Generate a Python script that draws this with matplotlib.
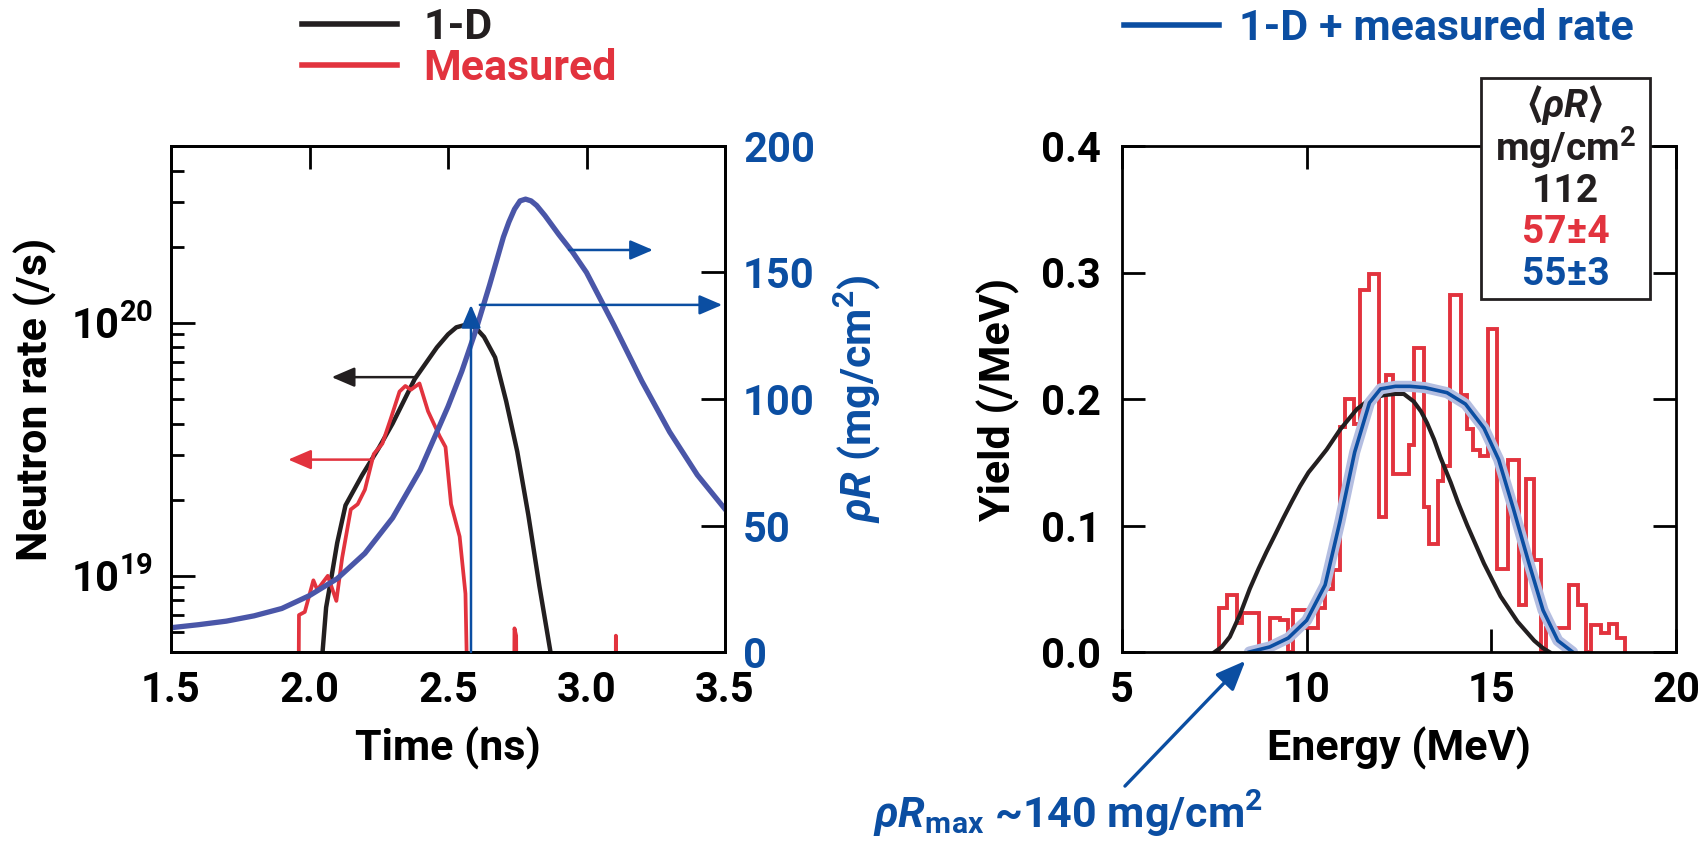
import numpy as np
import matplotlib
matplotlib.use("Agg")
from matplotlib import pyplot as plt
from matplotlib.patches import Rectangle
from matplotlib.ticker import FixedLocator, FuncFormatter, LogLocator, NullFormatter

# ---- left panel: neutron rate (log) and rhoR vs time ----
t_1d = [2.03, 2.04, 2.06, 2.08, 2.10, 2.13, 2.19, 2.25, 2.30, 2.38, 2.46, 2.50, 2.53,
        2.56, 2.59, 2.61, 2.63, 2.67, 2.71, 2.75, 2.79, 2.83, 2.87, 2.89]
rate_1d = [2e18, 4e18, 7.5e18, 1.0e19, 1.35e19, 1.9e19, 2.5e19, 3.2e19, 4.0e19, 6.0e19,
           8.0e19, 9.0e19, 9.6e19, 9.8e19, 9.7e19, 9.3e19, 8.8e19, 7.3e19, 4.9e19,
           3.1e19, 1.74e19, 9.1e18, 5.0e18, 3.0e18]

t_meas = [1.958, 1.962, 1.983, 2.014, 2.028, 2.066, 2.097, 2.118, 2.149, 2.174, 2.200,
          2.232, 2.263, 2.294, 2.325, 2.346, 2.366, 2.397, 2.428, 2.470, 2.491, 2.511,
          2.542, 2.563, 2.580]
rate_meas = [1e18, 7.0e18, 7.2e18, 9.6e18, 8.8e18, 1.0e19, 7.96e18, 1.18e19, 1.83e19,
             1.92e19, 2.19e19, 3.03e19, 3.33e19, 4.2e19, 5.35e19, 5.63e19, 5.44e19,
             5.76e19, 4.47e19, 3.56e19, 3.23e19, 1.92e19, 1.43e19, 8.5e18, 1e18]
spike1_t = [2.736, 2.740, 2.746, 2.750]
spike1_rate = [1e18, 6.2e18, 5.8e18, 1e18]
spike2_t = [3.104, 3.106, 3.108]
spike2_rate = [1e18, 5.8e18, 1e18]

t_rhoR = [1.5, 1.6, 1.7, 1.8, 1.9, 2.0, 2.1, 2.2, 2.3, 2.4, 2.5, 2.55, 2.6, 2.65, 2.7,
          2.72, 2.74, 2.76, 2.78, 2.80, 2.82, 2.85, 2.9, 2.95, 3.0, 3.1, 3.2, 3.3, 3.4, 3.5]
rhoR = [9.6, 10.8, 12.2, 14.3, 17.2, 22.3, 29, 39, 53, 72, 97, 111, 127, 145, 164,
        170, 175, 178.3, 179, 178.3, 176.5, 172.5, 165, 158, 150, 129, 107, 87, 70, 56.5]

# ---- right panel: yield spectra vs energy ----
e_edges = [7.62, 7.84, 8.12, 8.26, 8.71, 9.02, 9.27, 9.50, 9.64, 10.00, 10.32, 10.50,
           10.72, 10.89, 11.04, 11.27, 11.45, 11.68, 11.95, 12.16, 12.34, 12.76, 12.90,
           13.17, 13.31, 13.55, 13.70, 13.89, 14.17, 14.35, 14.51, 14.69, 14.91, 15.16,
           15.45, 15.75, 15.93, 16.16, 16.34, 16.48, 17.11, 17.34, 17.56, 17.70, 17.98,
           18.19, 18.40, 18.61]
yield_meas = [0.035, 0.045, 0.023, 0.031, 0.0, 0.027, 0.025, 0.0, 0.033, 0.019, 0.035,
              0.050, 0.065, 0.178, 0.200, 0.180, 0.286, 0.299, 0.107, 0.219, 0.141,
              0.164, 0.240, 0.115, 0.085, 0.135, 0.147, 0.282, 0.203, 0.176, 0.160,
              0.155, 0.255, 0.066, 0.152, 0.037, 0.137, 0.073, 0.0, 0.019, 0.053,
              0.037, 0.0, 0.021, 0.015, 0.022, 0.011]

e_1d = [7.51, 7.7, 7.92, 8.2, 8.46, 8.7, 8.91, 9.15, 9.37, 9.6, 9.82, 10.05, 10.27,
        10.54, 10.91, 11.36, 11.72, 12.08, 12.4, 12.63, 12.9, 13.1, 13.26, 13.45, 13.62,
        13.9, 14.1, 14.35, 14.8, 15.25, 15.71, 16.16, 16.4, 16.57]
yield_1d = [0.0, 0.004, 0.012, 0.030, 0.050, 0.066, 0.079, 0.093, 0.106, 0.119, 0.131,
            0.142, 0.150, 0.160, 0.176, 0.192, 0.200, 0.203, 0.204, 0.204, 0.198, 0.190,
            0.181, 0.168, 0.154, 0.134, 0.118, 0.100, 0.070, 0.044, 0.024, 0.009, 0.003,
            0.0]

e_fit = [8.45, 9.0, 9.5, 10.0, 10.5, 10.9, 11.3, 11.7, 12.0, 12.4, 12.8, 13.2, 13.8,
         14.3, 14.8, 15.2, 15.6, 16.0, 16.4, 16.8, 17.2]
yield_fit = [0.0, 0.004, 0.011, 0.025, 0.053, 0.103, 0.158, 0.197, 0.208, 0.210, 0.210,
             0.209, 0.205, 0.196, 0.177, 0.152, 0.113, 0.072, 0.033, 0.009, 0.0]

rhoR_box = ["112", "57\u00b14", "55\u00b13"]

BLACK = "#231F20"
RED = "#E2333E"
PURPLE = "#4A56A8"
BLUE = "#0B4EA2"
BAND = "#B4BEE1"

FONT = "Roboto"
plt.rcParams["font.family"] = [FONT, "DejaVu Sans"]
plt.rcParams["font.weight"] = "bold"
plt.rcParams["axes.labelweight"] = "bold"
plt.rcParams["font.size"] = 30
plt.rcParams["axes.linewidth"] = 2
plt.rcParams["mathtext.fontset"] = "custom"
plt.rcParams["mathtext.rm"] = FONT + ":bold"
plt.rcParams["mathtext.bf"] = FONT + ":bold"
plt.rcParams["mathtext.it"] = FONT + ":italic:bold"
plt.rcParams["mathtext.bfit"] = FONT + ":italic:bold"

fig = plt.figure(figsize=(17.05, 8.43), dpi=100)
W, H = 1705, 843
ax1 = fig.add_axes([171 / W, 191 / H, 554 / W, 506 / H])
ax3 = fig.add_axes([1122 / W, 191 / H, 554 / W, 506 / H])

# left panel
line_1d, = ax1.plot(t_1d, rate_1d, color=BLACK, lw=3.2, label="1-D")
line_meas, = ax1.plot(t_meas, rate_meas, color=RED, lw=2.7, label="Measured")
ax1.plot(spike1_t, spike1_rate, color=RED, lw=2.7)
ax1.plot(spike2_t, spike2_rate, color=RED, lw=2.7)
ax1.set_yscale("log")
ax1.set_xlim(1.5, 3.5)
ax1.set_ylim(5e18, 5e20)
ax1.xaxis.set_major_locator(FixedLocator([1.5, 2.0, 2.5, 3.0, 3.5]))
ax1.xaxis.set_major_formatter(FuncFormatter(lambda v, p: "%.1f" % v))
ax1.yaxis.set_major_locator(LogLocator(base=10))
ax1.yaxis.set_minor_locator(LogLocator(base=10, subs=np.arange(2, 10)))
ax1.yaxis.set_major_formatter(FuncFormatter(lambda v, p: r"$\mathbf{10^{%d}}$" % round(np.log10(v))))
ax1.yaxis.set_minor_formatter(NullFormatter())
ax1.tick_params(axis="x", which="both", direction="in", top=True, bottom=False,
                length=16.5, width=2, pad=13)
ax1.tick_params(axis="y", which="major", direction="in", length=17, width=2, pad=13)
ax1.tick_params(axis="y", which="minor", direction="in", length=9.7, width=2)
ax1.set_xlabel("Time (ns)", fontsize=31, va="center")
ax1.xaxis.set_label_coords(0.5, -0.19)
ax1.set_ylabel("Neutron rate (/s)", fontsize=31, va="center")
ax1.yaxis.set_label_coords(-0.244, 0.5)

arrow_small = "-|>,head_length=0.7,head_width=0.3"
ax1.annotate("", xy=(2.08, 6.1e19), xytext=(2.381, 6.1e19),
             arrowprops=dict(arrowstyle=arrow_small, color=BLACK, lw=1.8,
                             mutation_scale=20, shrinkA=0, shrinkB=0))
ax1.annotate("", xy=(1.923, 2.88e19), xytext=(2.218, 2.88e19),
             arrowprops=dict(arrowstyle=arrow_small, color=RED, lw=1.8,
                             mutation_scale=20, shrinkA=0, shrinkB=0))

ax2 = ax1.twinx()
ax2.plot(t_rhoR, rhoR, color=PURPLE, lw=3.8)
ax2.set_ylim(0, 200)
ax2.yaxis.set_major_locator(FixedLocator([0, 50, 100, 150, 200]))
ax2.tick_params(axis="y", direction="in", length=17, width=2, pad=13, labelcolor=BLUE)
ax2.set_ylabel(r"$\mathbfit{\rho R}$ (mg/cm$^{\mathbf{2}}$)", fontsize=31, color=BLUE,
               va="center", rotation=90)
ax2.yaxis.set_label_coords(1.24, 0.5)
for xy, xytext in [((3.24, 158.9), (2.937, 158.9)),
                   ((3.49, 137.2), (2.615, 137.2)),
                   ((2.583, 137.2), (2.583, 0))]:
    ax2.annotate("", xy=xy, xytext=xytext,
                 arrowprops=dict(arrowstyle=arrow_small, color=BLUE, lw=1.8,
                                 mutation_scale=20, shrinkA=0, shrinkB=0))

leg1 = fig.legend(handles=[line_1d, line_meas], loc="upper left",
                  bbox_to_anchor=(302 / W, 0.992), frameon=False, fontsize=31,
                  handlelength=2.2, handletextpad=0.62, labelspacing=0.0, borderpad=0,
                  borderaxespad=0, labelcolor="linecolor")
for ln in leg1.get_lines():
    ln.set_linewidth(4)

# right panel
ax3.stairs(yield_meas, e_edges, baseline=0, color=RED, lw=2.8)
ax3.plot(e_1d, yield_1d, color=BLACK, lw=3.0)
ax3.plot(e_fit, yield_fit, color=BAND, lw=8, solid_capstyle="round")
line_fit, = ax3.plot(e_fit, yield_fit, color=BLUE, lw=2.6, label="1-D + measured rate")
ax3.set_xlim(5, 20)
ax3.set_ylim(0, 0.4)
ax3.xaxis.set_major_locator(FixedLocator([5, 10, 15, 20]))
ax3.yaxis.set_major_locator(FixedLocator([0.0, 0.1, 0.2, 0.3, 0.4]))
ax3.yaxis.set_major_formatter(FuncFormatter(lambda v, p: "%.1f" % v))
ax3.tick_params(which="both", direction="in", top=True, right=True,
                length=16.5, width=2, pad=13)
ax3.tick_params(axis="y", pad=15)
ax3.set_xlabel("Energy (MeV)", fontsize=31, va="center")
ax3.xaxis.set_label_coords(0.5, -0.19)
ax3.set_ylabel("Yield (/MeV)", fontsize=31, va="center")
ax3.yaxis.set_label_coords(-0.224, 0.5)

ax3.add_patch(Rectangle((0.648, 0.6976), 0.305, 0.4368, transform=ax3.transAxes,
                        facecolor="white", edgecolor=BLACK, lw=2, clip_on=False, zorder=5))
box_lines = [(r"$\langle\mathbfit{\rho R}\rangle$", 1.058, BLACK),
             (r"mg/cm$^{\mathbf{2}}$", 0.970, BLACK),
             (rhoR_box[0], 0.889, BLACK),
             (rhoR_box[1], 0.808, RED),
             (rhoR_box[2], 0.725, BLUE)]
for s, yy, c in box_lines:
    ax3.text(0.8005, yy, s, transform=ax3.transAxes, ha="center", va="baseline",
             fontsize=28, color=c, zorder=6, clip_on=False)

ax3.annotate("", xy=(8.34, -0.007), xytext=(5.08, -0.106), annotation_clip=False,
             arrowprops=dict(arrowstyle="-|>,head_length=0.6,head_width=0.25",
                             color=BLUE, lw=2.4, mutation_scale=30, shrinkA=0, shrinkB=0))
fig.text(1068 / W, 1 - 828 / H, r"$\mathbfit{\rho R}_{\mathbf{max}}$ ~140 mg/cm$^{\mathbf{2}}$",
         ha="center", va="baseline", fontsize=31, color=BLUE)

leg2 = fig.legend(handles=[line_fit], loc="upper left", bbox_to_anchor=(1124 / W, 0.990),
                  frameon=False, fontsize=31, handlelength=2.2, handletextpad=0.48,
                  borderpad=0, borderaxespad=0, labelcolor="linecolor")
for ln in leg2.get_lines():
    ln.set_linewidth(4)

fig.savefig("out.png", dpi=100)
